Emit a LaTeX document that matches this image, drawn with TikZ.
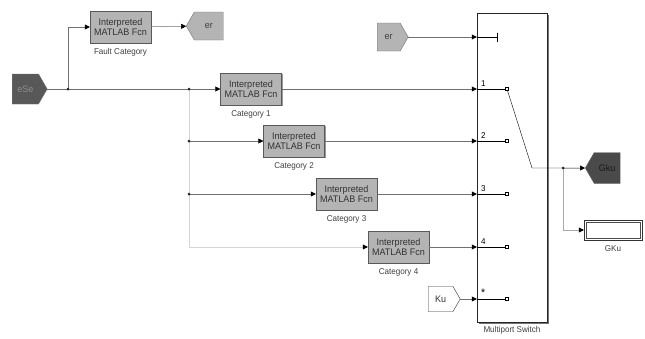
\documentclass[tikz,border=0pt]{standalone}
\usepackage{fontspec}
\setmainfont{Liberation Sans}[FakeStretch=0.95]
\usetikzlibrary{arrows.meta,shapes.symbols,shadows,positioning}
\definecolor{blockgray}{HTML}{B4B4B4}
\definecolor{tagdark}{HTML}{585858}
\definecolor{gkudark}{HTML}{4A4A4A}
\definecolor{linegray}{HTML}{707070}
\definecolor{branchgray}{HTML}{D4D4D4}
\begin{document}
\begin{tikzpicture}[x=1pt,y=-1pt,
	fcn/.style={draw=black!65, fill=blockgray, minimum width=61pt, minimum height=32pt, inner sep=0pt, align=center,
		font=\fontsize{9.5}{10.5}\selectfont, text=black!80,
		drop shadow={shadow xshift=1.3pt, shadow yshift=-1.3pt, fill=black!40, opacity=1}},
	lbl/.style={font=\fontsize{8.5}{9}\selectfont, text=black!75},
	tag/.style={signal, draw=black!55, inner sep=0pt, signal pointer angle=120, font=\fontsize{9.5}{10}\selectfont},
	wire/.style={linegray, line width=0.5pt, -{Triangle[length=5pt,width=5pt,color=black]}},
	branch/.style={wire, branchgray},
	dot/.style={circle, fill=black!85, inner sep=0pt, minimum size=3pt},
	port/.style={draw, fill=white, inner sep=0pt, minimum size=3.2pt, line width=0.6pt}]
	\useasboundingbox (0,0) rectangle (645,338);
	%tags
	\node[tag, signal to=east, fill=tagdark, text=black!45, minimum width=35pt, minimum height=30pt, anchor=west] (ese) at (12,89) {eSe};
	\node[tag, signal to=west, fill=blockgray, text=black!75, minimum width=37pt, minimum height=28pt, anchor=west] (ertop) at (186,26) {er};
	\node[tag, signal to=east, fill=blockgray, text=black!75, minimum width=31pt, minimum height=28pt, anchor=west] (erin) at (377,37) {er};
	\node[tag, signal to=east, fill=white, draw=black!80, text=black!80, minimum width=32pt, minimum height=25pt, anchor=west] (ku) at (428,299) {Ku};
	\node[tag, signal to=west, fill=gkudark, text=black!90, minimum width=35pt, minimum height=31pt, anchor=west] (gku) at (585,168) {Gku};
	%fcn blocks
	\node[fcn] (fault) at (120.5,27) {Interpreted\\MATLAB Fcn};
	\node[lbl, below=2pt of fault] {Fault Category};
	\node[fcn] (cat1) at (251,89) {Interpreted\\MATLAB Fcn};
	\node[lbl, below=2pt of cat1] {Category 1};
	\node[fcn] (cat2) at (294,141) {Interpreted\\MATLAB Fcn};
	\node[lbl, below=2pt of cat2] {Category 2};
	\node[fcn] (cat3) at (346.5,194) {Interpreted\\MATLAB Fcn};
	\node[lbl, below=2pt of cat3] {Category 3};
	\node[fcn] (cat4) at (398.5,247) {Interpreted\\MATLAB Fcn};
	\node[lbl, below=2pt of cat4] {Category 4};
	%switch
	\node[draw=black!85, fill=white, minimum width=70pt, minimum height=309pt, inner sep=0pt,
		drop shadow={shadow xshift=2pt, shadow yshift=-2pt, fill=black!55, opacity=1}] (sw) at (512,167.5) {};
	\node[lbl, below=1pt of sw] {Multiport Switch};
	%scope
	\node[draw=black!80, fill=white, minimum width=58pt, minimum height=20pt, inner sep=0pt,
		drop shadow={shadow xshift=1.3pt, shadow yshift=-1.3pt, fill=black!40, opacity=1}] (scope) at (613,230) {};
	\draw[black!70] ([shift={(2.5,2.5)}]scope.north west) rectangle ([shift={(-2.5,-2.5)}]scope.south east);
	\node[lbl, below=2pt of scope] {GKu};
	%junctions
	\coordinate (j1) at (68,89);
	\coordinate (j2) at (189,89);
	\coordinate (j3) at (j2 |- cat2);
	\coordinate (j4) at (j2 |- cat3);
	\coordinate (jo) at (563,168);
	%lines
	\draw[branch] (j2) |- (cat4);
	\draw[wire] (ese.east) -- (cat1.west);
	\draw[wire] (j1) |- (fault);
	\draw[wire] (fault) -- (ertop);
	\draw[wire] (j3) -- (cat2);
	\draw[wire] (j4) -- (cat3);
	\draw[wire] (cat1) -- (sw.west |- cat1);
	\draw[wire] (cat2) -- (sw.west |- cat2);
	\draw[wire] (cat3) -- (sw.west |- cat3);
	\draw[wire] (cat4) -- (sw.west |- cat4);
	\draw[wire] (ku.east) -- (sw.west |- ku.east);
	\draw[wire] (erin.east) -- (sw.west |- erin.east);
	%inside switch
	\draw (sw.west |- erin.east) -- ++(20,0) coordinate (t0);
	\draw ([yshift=4.5pt]t0) -- ([yshift=-4.5pt]t0);
	\foreach \i/\lab/\yy in {1/1/89,2/2/141,3/3/194,4/4/247,5/{\fontsize{11}{11}\selectfont*}/299} {
		\node[port] (q\i) at (507,\yy) {};
		\draw (sw.west |- q\i) -- (q\i);
		\node[lbl, text=black, anchor=south west, inner sep=1pt] at ([xshift=3pt,yshift=1pt]sw.west |- q\i) {\lab};
	}
	\coordinate (knee) at (532,168);
	\draw (q1) -- (knee) -- (jo);
	\draw[wire, black] (jo) -- (gku);
	\draw[branch, linegray!60] (jo) |- (scope);
	\foreach \j in {j1,j2,j3,j4,jo} \node[dot] at (\j) {};
\end{tikzpicture}
\end{document}
